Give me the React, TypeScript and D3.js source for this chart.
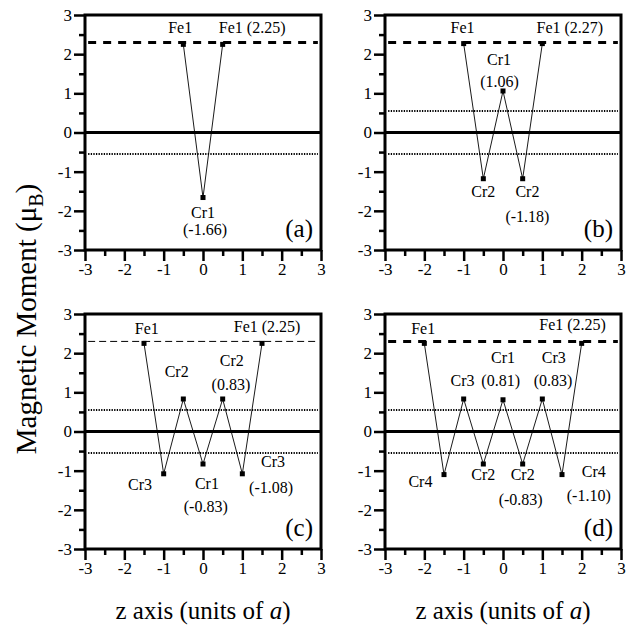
import * as React from "react";
import * as d3 from "d3";

// z positions (units of a) and moments (mu_B) per panel
const zTicks = [-3, -2, -1, 0, 1, 2, 3];
const zMinor = [-2.5, -1.5, -0.5, 0.5, 1.5, 2.5];
const mTicks = [-3, -2, -1, 0, 1, 2, 3];
const mMinor = [-2.5, -1.5, -0.5, 0.5, 1.5, 2.5];

const zA = [-0.5, 0, 0.5];
const mA = [2.25, -1.66, 2.25];
const zB = [-1, -0.5, 0, 0.5, 1];
const mB = [2.27, -1.18, 1.06, -1.18, 2.27];
const zC = [-1.5, -1, -0.5, 0, 0.5, 1, 1.5];
const mC = [2.25, -1.08, 0.83, -0.83, 0.83, -1.08, 2.25];
const zD = [-2, -1.5, -1, -0.5, 0, 0.5, 1, 1.5, 2];
const mD = [2.25, -1.1, 0.83, -0.83, 0.81, -0.83, 0.83, -1.1, 2.25];

const feLevel = 2.3;
const crBand = 0.55;

// [text, z, m] annotation anchors
const labelsA = [
  ["Fe1", -0.58, 2.54],
  ["Fe1 (2.25)", 1.25, 2.54],
  ["Cr1", 0, -2.18],
  ["(-1.66)", 0.05, -2.62],
];
const labelsB = [
  ["Fe1", -1.03, 2.54],
  ["Fe1 (2.27)", 1.7, 2.54],
  ["Cr1", -0.1, 1.72],
  ["(1.06)", -0.09, 1.16],
  ["Cr2", -0.5, -1.64],
  ["Cr2", 0.62, -1.64],
  ["(-1.18)", 0.62, -2.28],
];
const labelsC = [
  ["Fe1", -1.43, 2.5],
  ["Fe1 (2.25)", 1.63, 2.55],
  ["Cr2", -0.67, 1.4],
  ["Cr2", 0.73, 1.66],
  ["(0.83)", 0.71, 1.07],
  ["Cr3", -1.6, -1.5],
  ["Cr1", 0.1, -1.46],
  ["(-0.83)", 0.07, -2.05],
  ["Cr3", 1.78, -0.9],
  ["(-1.08)", 1.73, -1.56],
];
const labelsD = [
  ["Fe1", -2.03, 2.48],
  ["Fe1 (2.25)", 1.77, 2.58],
  ["Cr3", -1.03, 1.17],
  ["Cr1", 0, 1.74],
  ["(0.81)", -0.06, 1.17],
  ["Cr3", 1.29, 1.74],
  ["(0.83)", 1.27, 1.17],
  ["Cr4", -2.1, -1.41],
  ["Cr2", -0.5, -1.25],
  ["Cr2", 0.5, -1.25],
  ["(-0.83)", 0.45, -1.88],
  ["Cr4", 2.31, -1.15],
  ["(-1.10)", 2.18, -1.77],
];

const panels = [
  { tag: "(a)", z: zA, m: mA, labels: labelsA, x0: 85, y0: 15, thinDash: false, upperDots: false, xTitle: false },
  { tag: "(b)", z: zB, m: mB, labels: labelsB, x0: 385, y0: 15, thinDash: false, upperDots: true, xTitle: false },
  { tag: "(c)", z: zC, m: mC, labels: labelsC, x0: 85, y0: 314, thinDash: true, upperDots: true, xTitle: true },
  { tag: "(d)", z: zD, m: mD, labels: labelsD, x0: 385, y0: 314, thinDash: false, upperDots: true, xTitle: true },
];

const W = 236;
const H = 235;
const FONT = "Liberation Serif";

export default function App() {
  const ref = React.useRef<SVGSVGElement>(null);

  React.useEffect(() => {
    const svg = d3.select(ref.current);
    svg.selectAll("*").remove();

    panels.forEach((p) => {
      const x = d3.scaleLinear().domain([-3, 3]).range([0, W]);
      const y = d3.scaleLinear().domain([-3, 3]).range([H, 0]);

      const g = svg.append("g").attr("transform", `translate(${p.x0},${p.y0})`);

      // reference levels
      const hline = (v: number) =>
        g.append("line").attr("x1", x(-2.92)).attr("x2", x(2.92)).attr("y1", y(v)).attr("y2", y(v)).attr("stroke", "#000");

      hline(feLevel)
        .attr("stroke-width", p.thinDash ? 1 : 3)
        .attr("stroke-dasharray", p.thinDash ? "7,4" : "8,7");
      hline(-crBand).attr("stroke-width", 2).attr("stroke-dasharray", "1.3,1.3");
      if (p.upperDots) hline(crBand).attr("stroke-width", 2).attr("stroke-dasharray", "1.3,1.3");
      g.append("line")
        .attr("x1", 0).attr("x2", W).attr("y1", y(0)).attr("y2", y(0))
        .attr("stroke", "#000").attr("stroke-width", 3);

      // moment profile
      const pts = p.z.map((z, i) => [z, p.m[i]] as [number, number]);
      const line = d3.line<[number, number]>().x((d) => x(d[0])).y((d) => y(d[1]));
      g.append("path").attr("d", line(pts)).attr("fill", "none").attr("stroke", "#000").attr("stroke-width", 0.9);
      g.selectAll("rect.pt")
        .data(pts)
        .enter()
        .append("rect")
        .attr("class", "pt")
        .attr("x", (d) => x(d[0]) - 2.5)
        .attr("y", (d) => y(d[1]) - 2.5)
        .attr("width", 5)
        .attr("height", 5)
        .attr("fill", "#000");

      // annotations
      g.selectAll("text.lab")
        .data(p.labels)
        .enter()
        .append("text")
        .attr("class", "lab")
        .attr("x", (d) => x(d[1] as number))
        .attr("y", (d) => y(d[2] as number))
        .attr("text-anchor", "middle")
        .style("font-family", FONT)
        .style("font-size", "16px")
        .text((d) => d[0] as string);

      g.append("text")
        .attr("x", W - 8)
        .attr("y", H - 13)
        .attr("text-anchor", "end")
        .style("font-family", FONT)
        .style("font-size", "25px")
        .text(p.tag);

      // axes
      const styleAxis = (sel: any) => {
        sel.attr("font-family", null).attr("font-size", null);
        sel.select(".domain").remove();
        sel.selectAll(".tick line").attr("stroke-width", 2.5);
        sel.selectAll("text").style("font-family", FONT).style("font-size", "17px").attr("fill", "#000");
      };
      g.append("g")
        .attr("transform", `translate(0,${H})`)
        .call(d3.axisBottom(x).tickValues(zTicks).tickSize(11).tickPadding(2).tickFormat((d) => String(d)))
        .call(styleAxis);
      g.append("g")
        .attr("transform", `translate(0,${H})`)
        .call(d3.axisBottom(x).tickValues(zMinor).tickSize(6).tickFormat(() => ""))
        .call(styleAxis);
      g.append("g")
        .call(d3.axisLeft(y).tickValues(mTicks).tickSize(11).tickPadding(2).tickFormat((d) => String(d)))
        .call(styleAxis);
      g.append("g")
        .call(d3.axisLeft(y).tickValues(mMinor).tickSize(6).tickFormat(() => ""))
        .call(styleAxis);

      g.append("rect")
        .attr("width", W)
        .attr("height", H)
        .attr("fill", "none")
        .attr("stroke", "#000")
        .attr("stroke-width", 3);

      if (p.xTitle) {
        const t = g.append("text")
          .attr("x", W / 2)
          .attr("y", H + 70)
          .attr("text-anchor", "middle")
          .style("font-family", FONT)
          .style("font-size", "25px");
        t.append("tspan").text("z axis (units of ");
        t.append("tspan").style("font-style", "italic").text("a");
        t.append("tspan").text(")");
      }
    });

    const yt = svg.append("text")
      .attr("transform", "translate(36,319) rotate(-90)")
      .attr("text-anchor", "middle")
      .style("font-family", FONT)
      .style("font-size", "29px");
    yt.append("tspan").text("Magnetic Moment (μ");
    yt.append("tspan").style("font-size", "20px").attr("dy", 7).text("B");
    yt.append("tspan").attr("dy", -7).text(")");
  }, []);

  return (
    <svg
      ref={ref}
      width={641}
      height={639}
      style={{ position: "absolute", left: 0, top: 0, background: "#fff" }}
    />
  );
}
